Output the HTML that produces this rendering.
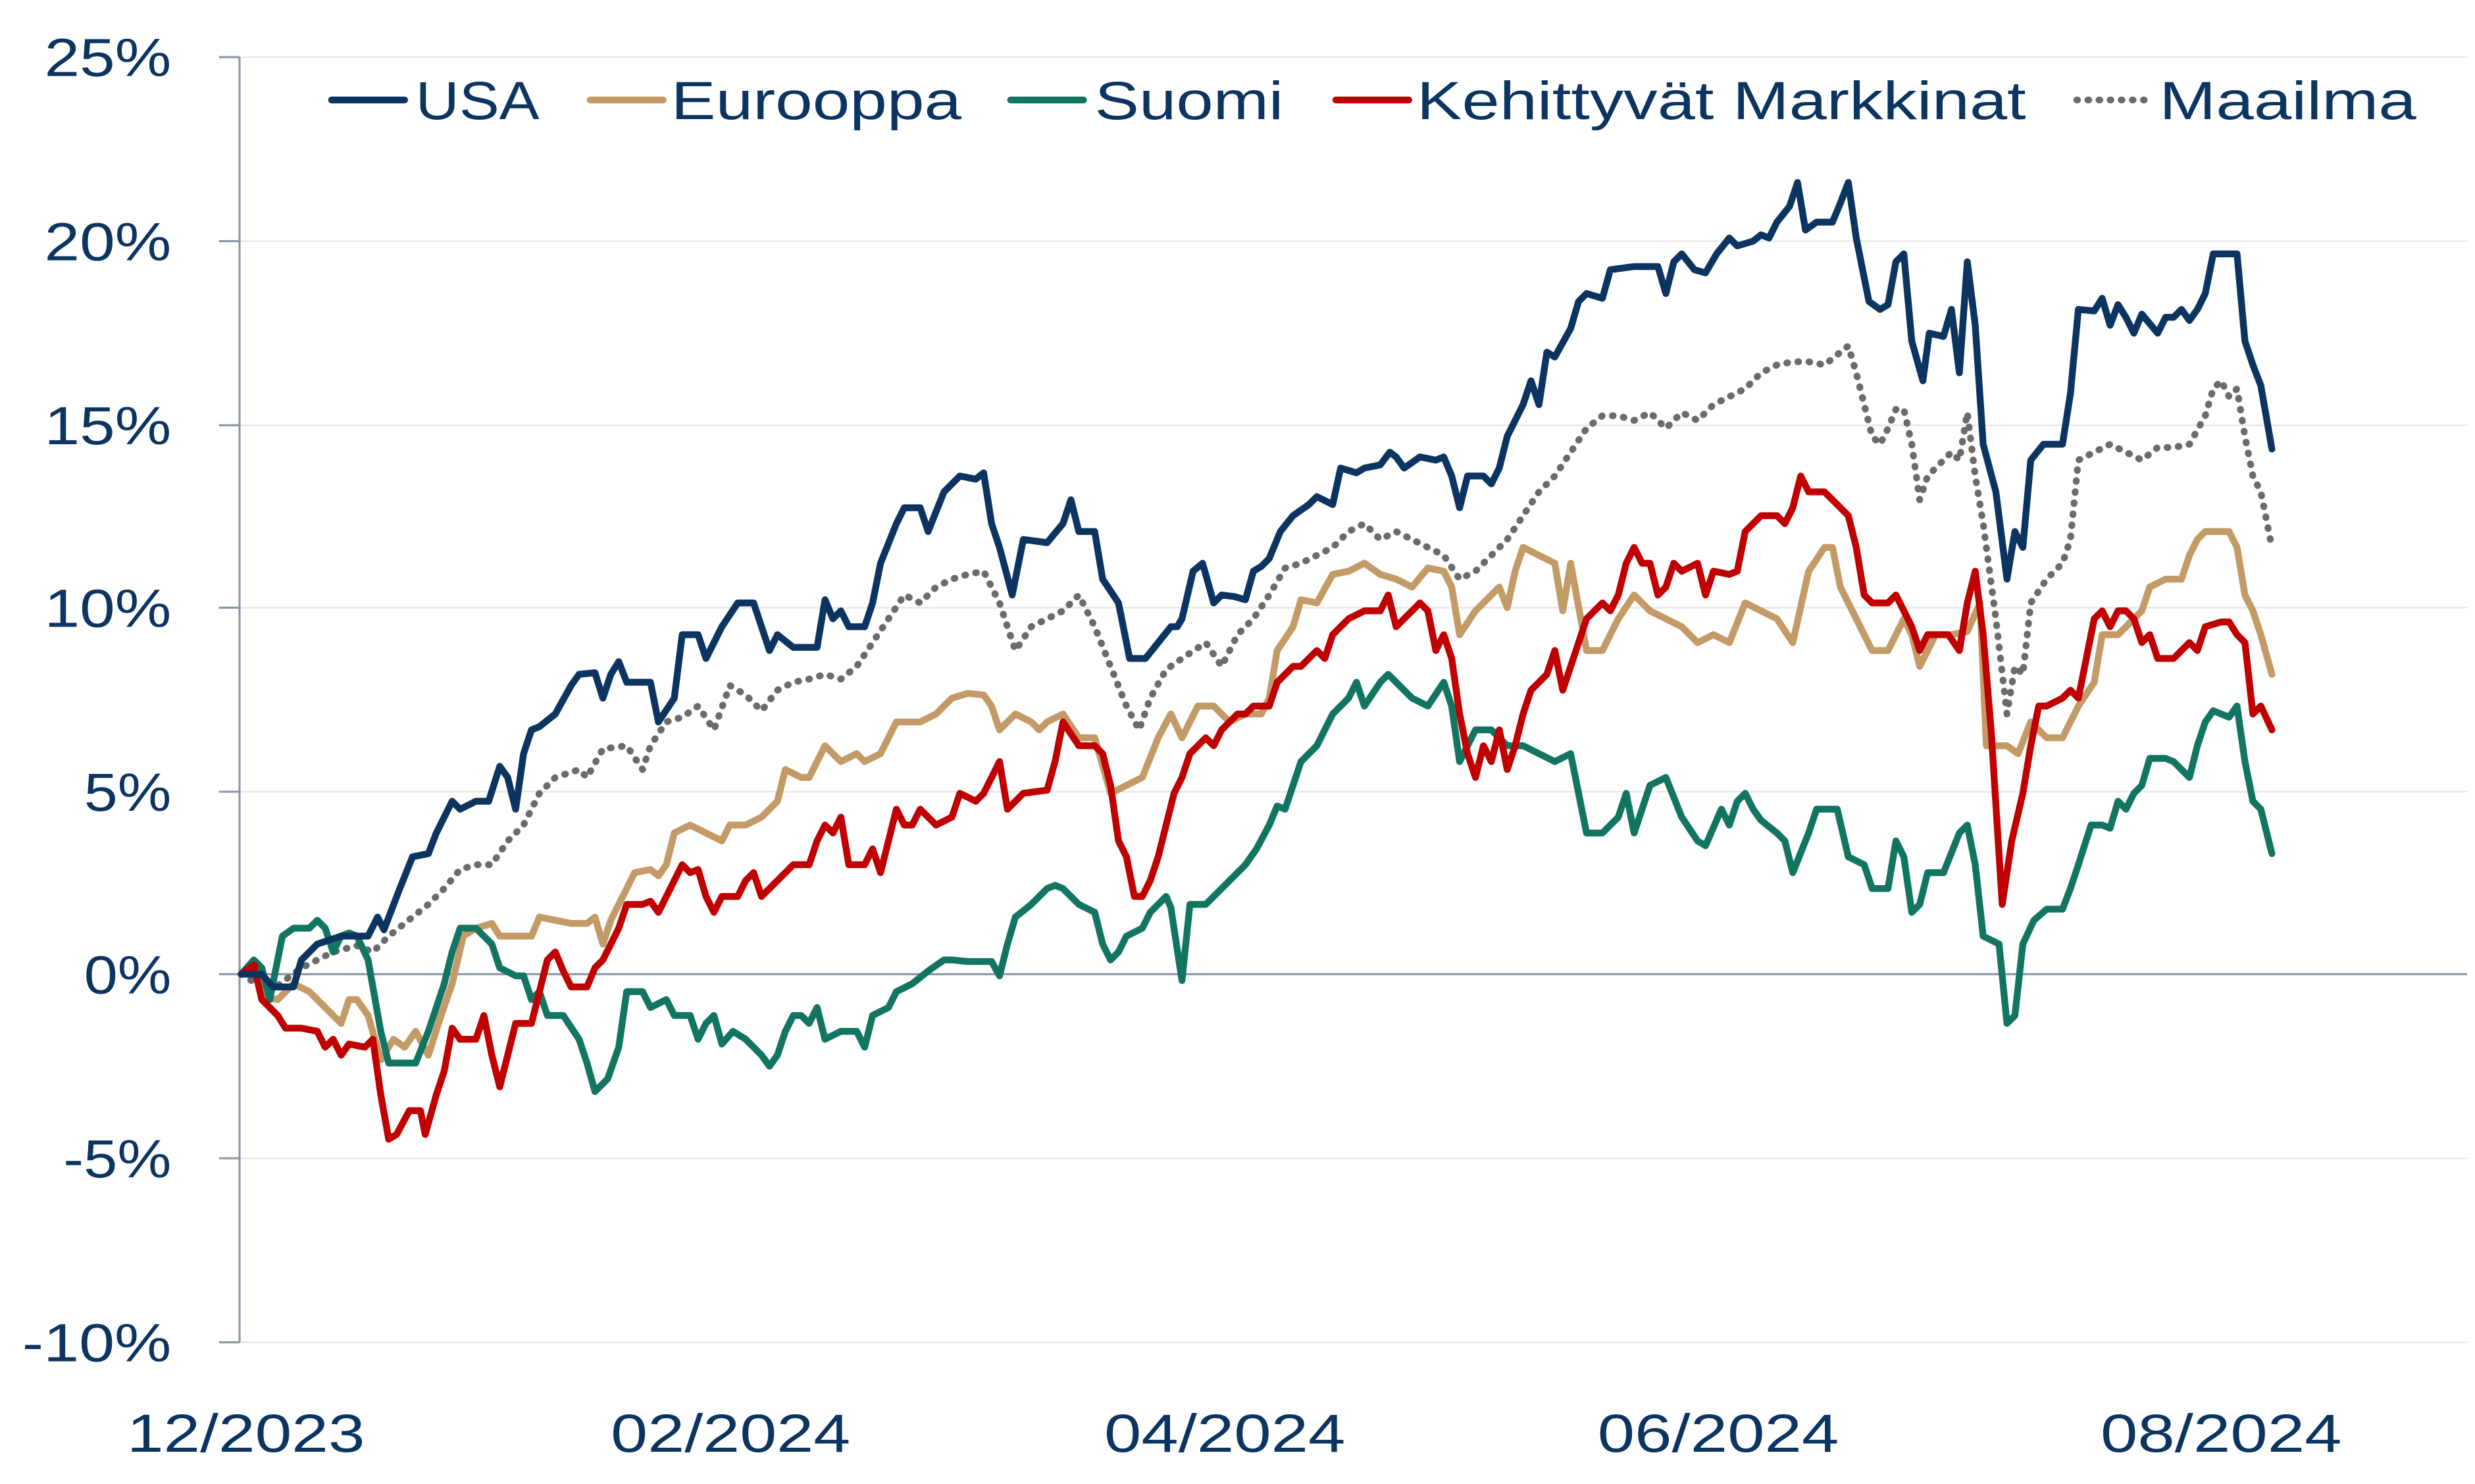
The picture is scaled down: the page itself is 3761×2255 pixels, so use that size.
<!DOCTYPE html>
<html><head><meta charset="utf-8"><style>html,body{margin:0;padding:0;background:#fff}svg{display:block}</style></head>
<body>
<svg width="3761" height="2255" viewBox="0 0 1560 935.3" preserveAspectRatio="none" xmlns="http://www.w3.org/2000/svg" font-family="Liberation Sans, sans-serif">
<g stroke="#e8e8e8" stroke-width="1">
<line x1="151" y1="36" x2="1555" y2="36"/><line x1="151" y1="152" x2="1555" y2="152"/><line x1="151" y1="268" x2="1555" y2="268"/><line x1="151" y1="383" x2="1555" y2="383"/><line x1="151" y1="499" x2="1555" y2="499"/><line x1="151" y1="730" x2="1555" y2="730"/><line x1="151" y1="846" x2="1555" y2="846"/>
</g>
<g stroke="#8a96a8" stroke-width="1.3">
<line x1="151" y1="36" x2="151" y2="846"/><line x1="151" y1="614" x2="1555" y2="614"/>
<line x1="138" y1="36" x2="151" y2="36"/><line x1="138" y1="152" x2="151" y2="152"/><line x1="138" y1="268" x2="151" y2="268"/><line x1="138" y1="383" x2="151" y2="383"/><line x1="138" y1="499" x2="151" y2="499"/><line x1="138" y1="614" x2="151" y2="614"/><line x1="138" y1="730" x2="151" y2="730"/><line x1="138" y1="846" x2="151" y2="846"/>
</g>
<g fill="#0b3461" font-size="34" lengthAdjust="spacingAndGlyphs">
<text x="28" y="48" textLength="80" lengthAdjust="spacingAndGlyphs">25%</text>
<text x="28" y="164" textLength="80" lengthAdjust="spacingAndGlyphs">20%</text>
<text x="28" y="280" textLength="80" lengthAdjust="spacingAndGlyphs">15%</text>
<text x="28" y="395" textLength="80" lengthAdjust="spacingAndGlyphs">10%</text>
<text x="53" y="511" textLength="55" lengthAdjust="spacingAndGlyphs">5%</text>
<text x="53" y="626" textLength="55" lengthAdjust="spacingAndGlyphs">0%</text>
<text x="40" y="742" textLength="68" lengthAdjust="spacingAndGlyphs">-5%</text>
<text x="14" y="858" textLength="94" lengthAdjust="spacingAndGlyphs">-10%</text>
</g>
<g fill="#0b3461" font-size="34">
<text x="80" y="915" textLength="150" lengthAdjust="spacingAndGlyphs">12/2023</text>
<text x="385" y="915" textLength="151" lengthAdjust="spacingAndGlyphs">02/2024</text>
<text x="696" y="915" textLength="152" lengthAdjust="spacingAndGlyphs">04/2024</text>
<text x="1007" y="915" textLength="152" lengthAdjust="spacingAndGlyphs">06/2024</text>
<text x="1324" y="915" textLength="152" lengthAdjust="spacingAndGlyphs">08/2024</text>
</g>
<g fill="none" stroke-width="4.3" stroke-linejoin="round" stroke-linecap="round">
<polyline stroke="#6b6b6b" stroke-dasharray="0.5 6.5" points="152,614 170,625 190,610 210,600 225,596 235,600 245,590 260,578 270,570 280,560 290,548 300,545 310,545 320,530 330,520 340,500 350,490 365,485 370,490 380,472 395,470 405,485 410,470 420,455 430,452 440,445 450,460 460,432 470,438 480,448 490,435 500,430 510,428 520,425 530,428 540,420 550,405 560,390 570,375 580,380 590,370 600,365 610,362 620,360 630,380 640,410 650,395 660,390 670,385 680,375 690,395 700,420 710,445 718,460 725,440 735,422 745,415 760,405 770,420 780,400 790,390 800,375 810,358 820,355 830,350 840,345 850,335 860,330 870,340 880,335 890,340 900,345 910,350 920,365 930,360 940,350 950,340 960,325 970,310 980,300 990,285 1000,270 1010,262 1020,262 1030,265 1040,260 1050,270 1060,260 1070,265 1080,255 1090,250 1100,245 1110,235 1120,230 1130,228 1140,228 1150,230 1160,222 1165,218 1170,235 1180,275 1185,280 1190,270 1195,258 1200,258 1205,280 1210,315 1215,300 1220,295 1230,285 1235,290 1240,260 1245,300 1250,330 1258,390 1265,450 1270,420 1275,425 1280,380 1290,365 1300,355 1305,340 1310,290 1320,285 1330,280 1340,285 1350,290 1360,282 1370,282 1380,280 1390,262 1395,245 1400,240 1405,250 1410,245 1415,275 1420,300 1425,310 1432,345"/>
<polyline stroke="#c49a66" points="152,614 160,608 165,628 175,630 185,620 195,625 205,635 215,645 220,630 225,630 232,640 240,668 248,655 255,660 262,650 270,665 278,640 285,620 292,590 300,585 310,582 315,590 325,590 335,590 340,578 350,580 360,582 370,582 375,578 380,595 385,580 395,560 400,550 410,548 415,552 420,545 425,525 435,520 445,525 455,530 460,520 470,520 480,515 490,505 495,485 505,490 510,490 515,480 520,470 530,480 540,475 545,480 555,475 560,465 565,455 580,455 590,450 600,440 610,437 620,438 625,445 630,460 640,450 650,455 655,460 660,455 670,450 680,465 690,465 700,500 710,495 720,490 730,465 738,450 745,465 755,445 765,445 775,455 785,450 795,450 800,440 805,410 815,395 820,378 830,380 840,362 850,360 860,355 870,362 880,365 890,370 900,358 910,360 915,370 920,400 930,385 940,375 945,370 950,383 955,360 960,345 970,350 980,355 985,385 990,355 1000,410 1010,410 1020,390 1030,375 1040,385 1050,390 1060,395 1070,405 1080,400 1090,405 1100,380 1110,385 1120,390 1130,405 1140,360 1150,345 1155,345 1160,370 1170,390 1180,410 1190,410 1200,390 1205,400 1210,420 1220,400 1230,400 1240,398 1248,380 1252,470 1258,470 1265,470 1272,475 1280,455 1290,465 1300,465 1310,445 1320,430 1325,400 1335,400 1340,395 1350,385 1355,370 1365,365 1375,365 1380,350 1385,340 1390,335 1405,335 1410,345 1415,375 1420,385 1425,400 1432,425"/>
<polyline stroke="#127562" points="152,614 160,605 165,610 170,630 178,590 185,585 195,585 200,580 205,585 210,600 215,590 220,588 225,590 232,605 240,650 245,670 262,670 270,650 280,620 285,600 290,585 300,585 310,595 315,610 325,615 330,615 335,630 340,625 345,640 355,640 365,655 370,670 375,688 383,680 390,660 395,625 405,625 410,635 420,630 425,640 435,640 440,655 445,645 450,640 455,658 462,650 470,655 480,665 485,672 490,665 495,650 500,640 505,640 510,645 515,635 520,655 530,650 540,650 545,660 550,640 560,635 565,625 575,620 585,612 595,605 600,605 610,606 625,606 630,615 635,595 640,578 650,570 660,560 665,558 670,560 680,570 690,575 695,595 700,605 705,600 710,590 720,585 725,575 735,565 738,572 745,618 750,570 760,570 770,560 775,555 785,545 792,535 800,520 805,508 810,510 820,480 830,470 840,450 850,440 855,430 860,445 870,430 875,425 885,435 890,440 900,445 910,430 915,445 920,480 930,460 940,460 950,470 960,470 970,475 980,480 990,475 995,500 1000,525 1010,525 1020,515 1025,500 1030,525 1040,495 1050,490 1060,515 1070,530 1075,533 1085,510 1090,520 1095,505 1100,500 1105,510 1110,517 1120,525 1125,530 1130,550 1140,525 1145,510 1150,510 1158,510 1165,540 1175,545 1180,560 1190,560 1195,530 1200,540 1205,575 1210,570 1215,550 1225,550 1235,525 1240,520 1245,545 1250,590 1260,595 1265,645 1270,640 1275,595 1282,580 1290,573 1300,573 1305,560 1310,545 1318,520 1325,520 1330,522 1335,505 1340,510 1345,500 1350,495 1355,478 1365,478 1370,480 1375,485 1380,490 1385,470 1390,455 1395,448 1400,450 1405,452 1410,445 1415,480 1420,505 1425,510 1432,538"/>
<polyline stroke="#c00000" points="152,614 160,608 165,630 175,640 180,648 190,648 200,650 205,660 210,655 215,665 220,658 230,660 235,655 240,690 245,718 250,715 258,700 265,700 268,715 275,690 280,675 285,648 290,655 300,655 305,640 310,665 315,685 320,665 325,645 335,645 340,625 345,605 350,600 355,612 360,622 370,622 375,610 380,605 385,595 390,585 395,570 405,570 410,568 415,575 420,565 425,555 430,545 435,550 440,548 445,565 450,575 455,565 465,565 470,555 475,550 480,565 490,555 495,550 500,545 510,545 515,530 520,520 525,525 530,515 535,545 545,545 550,535 555,550 565,510 570,520 575,520 580,510 590,520 600,515 605,500 615,505 620,500 625,490 630,480 635,510 645,500 660,498 665,480 670,455 680,470 690,470 695,475 700,495 705,530 710,540 715,565 720,565 725,555 730,540 735,520 740,500 745,490 750,475 755,470 760,465 765,470 770,460 775,455 780,450 785,450 790,445 800,445 805,430 810,425 815,420 820,420 830,410 835,415 840,400 850,390 860,385 870,385 875,375 880,395 890,385 895,380 900,385 905,410 910,400 915,415 920,450 925,475 930,490 935,470 940,480 945,460 950,485 955,470 960,450 965,435 975,425 980,410 985,435 990,420 1000,390 1010,380 1015,385 1020,375 1025,355 1030,345 1035,355 1040,355 1045,375 1050,370 1055,355 1060,360 1070,355 1075,375 1080,360 1090,362 1095,360 1100,335 1110,325 1120,325 1125,330 1130,320 1135,300 1140,310 1150,310 1160,320 1165,325 1170,345 1175,375 1180,380 1190,380 1195,375 1200,385 1205,395 1210,410 1215,400 1220,400 1228,400 1235,410 1240,380 1245,360 1250,400 1255,460 1262,570 1268,530 1275,500 1280,470 1285,445 1290,445 1300,440 1305,435 1310,440 1315,415 1320,390 1325,385 1330,395 1335,385 1340,385 1345,390 1350,405 1355,400 1360,415 1370,415 1375,410 1380,405 1385,410 1390,395 1400,392 1405,392 1410,400 1415,405 1420,450 1425,445 1432,460"/>
<polyline stroke="#0b3461" points="152,614 165,614 172,622 185,622 190,605 200,595 215,590 232,590 238,578 242,586 252,560 260,540 270,538 275,525 280,515 285,505 290,510 300,505 308,505 315,483 320,490 325,510 330,475 335,460 340,458 350,450 360,432 365,425 375,424 380,440 385,425 390,417 395,430 410,430 415,455 425,440 430,400 440,400 445,415 455,395 465,380 475,380 485,410 490,400 500,408 515,408 520,378 525,390 530,385 535,395 545,395 550,380 555,355 565,330 570,320 580,320 585,335 595,310 605,300 615,302 620,298 625,330 630,345 638,375 645,340 660,342 670,330 675,315 680,335 690,335 695,365 705,380 712,415 722,415 730,405 738,395 742,395 745,390 752,360 758,355 765,380 770,375 778,376 785,378 790,360 795,357 800,352 807,335 815,325 825,318 830,313 840,318 845,295 855,298 860,295 870,293 876,285 880,288 885,295 895,288 905,290 910,288 915,300 920,320 925,300 935,300 940,305 945,295 950,275 960,255 965,240 970,255 975,222 980,225 990,207 995,190 1000,185 1010,188 1015,170 1030,168 1045,168 1050,185 1055,165 1060,160 1068,170 1075,172 1082,160 1090,150 1095,155 1105,152 1110,148 1115,150 1120,140 1128,130 1133,115 1138,145 1145,140 1155,140 1160,128 1165,115 1170,150 1178,190 1185,195 1190,192 1195,165 1200,160 1205,215 1212,240 1216,210 1225,212 1230,195 1235,235 1240,165 1245,205 1250,280 1258,310 1265,365 1270,335 1275,345 1280,290 1288,280 1300,280 1305,248 1310,195 1320,196 1325,188 1330,205 1335,192 1340,200 1345,210 1350,198 1360,210 1365,200 1370,200 1375,195 1380,202 1385,195 1390,185 1395,160 1410,160 1415,215 1420,230 1425,243 1432,283"/>
</g>
<g stroke-width="4.3" stroke-linecap="round">
<line x1="209" y1="63" x2="255" y2="63" stroke="#0b3461"/>
<line x1="372" y1="63" x2="418" y2="63" stroke="#c49a66"/>
<line x1="637" y1="63" x2="683" y2="63" stroke="#127562"/>
<line x1="842" y1="63" x2="888" y2="63" stroke="#c00000"/>
<line x1="1309" y1="63" x2="1355" y2="63" stroke="#6b6b6b" stroke-dasharray="0.5 6.5"/>
</g>
<g fill="#0b3461" font-size="34">
<text x="262" y="75" textLength="78" lengthAdjust="spacingAndGlyphs">USA</text>
<text x="423" y="75" textLength="183" lengthAdjust="spacingAndGlyphs">Eurooppa</text>
<text x="690" y="75" textLength="119" lengthAdjust="spacingAndGlyphs">Suomi</text>
<text x="893" y="75" textLength="384" lengthAdjust="spacingAndGlyphs">Kehittyvät Markkinat</text>
<text x="1361" y="75" textLength="162" lengthAdjust="spacingAndGlyphs">Maailma</text>
</g>
</svg>
</body></html>
